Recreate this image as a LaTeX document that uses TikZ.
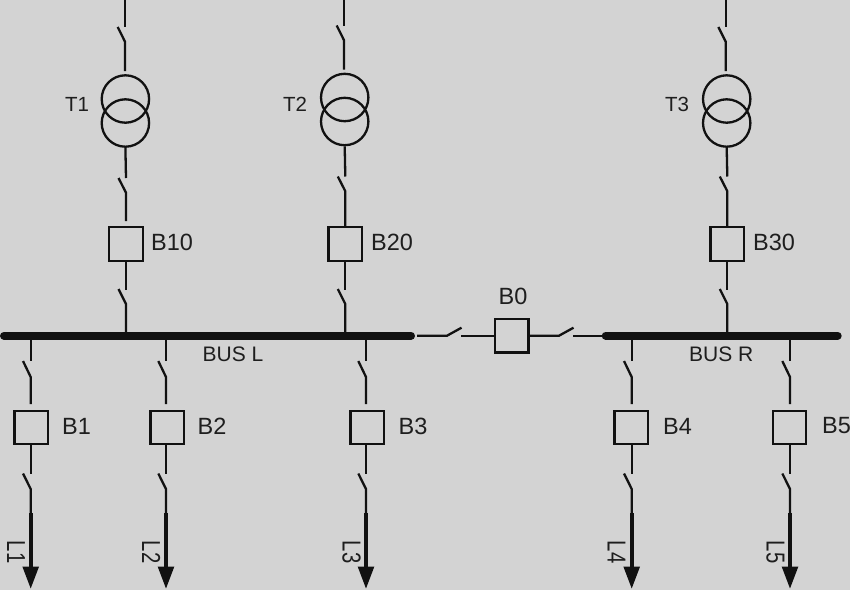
\documentclass[tikz,border=0pt]{standalone}
\usepackage{fontspec}
\setmainfont{Liberation Sans}
\usetikzlibrary{arrows.meta}
\definecolor{bg}{HTML}{D3D3D3}
\definecolor{ink}{HTML}{111111}
\definecolor{txt}{HTML}{1E1E1E}
\tikzset{
  conn/.style={draw=ink,line width=2.3pt},
  heavy/.style={draw=ink,line width=8pt,line cap=round},
  feed/.style={draw=ink,line width=4pt,-{Triangle[length=22.5pt,width=15.5pt]}},
  breaker/.style={draw=ink,line width=2.3pt,rectangle,minimum size=33.6pt,inner sep=0pt,outer sep=1.15pt},
  winding/.style={draw=ink,line width=2.3pt,circle,minimum size=47.4pt,inner sep=0pt,outer sep=1.15pt},
  tlbl/.style={font=\fontsize{20.5}{23}\selectfont,text=txt,inner sep=0pt},
  buslbl/.style={font=\fontsize{21}{23}\selectfont,text=txt,inner sep=0pt},
  blbl/.style={font=\fontsize{23.5}{25}\selectfont,text=txt,inner sep=0pt},
  lnlbl/.style={font=\fontsize{26}{28}\selectfont,text=txt,inner sep=0pt,rotate=-90,xscale=0.78},
}
\begin{document}
\begin{tikzpicture}[x=1pt,y=-1pt]
\path[use as bounding box,fill=bg] (0,0) rectangle (850,590);
% busbars
\coordinate (busLa) at (4,335.7);
\coordinate (busLb) at (411,335.7);
\coordinate (busRa) at (605.7,335.7);
\coordinate (busRb) at (837.7,335.7);
\draw[heavy] (busLa) -- (busLb);
\draw[heavy] (busRa) -- (busRb);
\node[buslbl] (busLt) at (233,354.5) {BUS L};
\node[buslbl] (busRt) at (721.3,354.5) {BUS R};
% incomers: number / upper x / circle x / lower x / T label x / B label x / upper blade y / circle y / lower blade y / end of line above breaker
\foreach \n/\xt/\xc/\xl/\tx/\bx/\yu/\yc/\ym/\ye in {
  1/125/125.4/126/77/172/27/99/178/221,
  2/344/344.7/345.3/295/392/25.5/97.5/176.5/226,
  3/725.7/726.7/727.3/677/774/27/99/176.5/226}{
  \pgfmathsetmacro{\ycb}{\yc+24}
  \pgfmathsetmacro{\yub}{\yu+14.7}
  \pgfmathsetmacro{\yud}{\yu+44}
  \pgfmathsetmacro{\ymb}{\ym+14.7}
  \coordinate (top\n) at (\xt,0);
  \coordinate (ua\n) at (\xt,\yu);
  \coordinate (ub\n) at (\xt-7.3,\yu);
  \coordinate (uc\n) at (\xt,\yub);
  \coordinate (ud\n) at (\xt,\yud);
  \node[winding] (wa\n) at (\xc,\yc) {};
  \node[winding] (wb\n) at (\xc,\ycb) {};
  \coordinate (mb\n) at (\xl,\ym);
  \coordinate (mc\n) at (\xl-7.5,\ym);
  \coordinate (md\n) at (\xl,\ymb);
  \coordinate (me\n) at (\xl,\ye);
  \node[breaker] (brk\n) at (\xl,243.9) {};
  \node[tlbl] (tl\n) at (\tx,104) {T\n};
  \node[blbl] (bl\n) at (\bx,242) {B\n0};
  \coordinate (la\n) at (\xl,290);
  \coordinate (lb\n) at (\xl-7.5,289);
  \coordinate (lc\n) at (\xl,304);
  \coordinate (ld\n) at (\xl,332);
  \draw[conn] (top\n) -- (ua\n);
  \draw[conn] (ub\n) -- (uc\n) -- (ud\n);
  \draw[conn] (wb\n.south) -- (mb\n);
  \draw[conn] (mc\n) -- (md\n) -- (me\n);
  \draw[conn] (brk\n.south) -- (la\n);
  \draw[conn] (lb\n) -- (lc\n) -- (ld\n);
}
% feeders: number / line x / box x / B label x / L label x
\foreach \n/\x/\cx/\bx/\lx in {1/30.7/31.3/76.5/16,2/166/167.2/212/151.3,3/366/367.2/413/351.5,4/631.7/631.3/677.5/616.5,5/790/789.5/836.5/775.5}{
  \coordinate (fa\n) at (\x,338);
  \coordinate (fb\n) at (\x,361);
  \coordinate (fc\n) at (\x-7.7,361);
  \coordinate (fd\n) at (\x,377);
  \coordinate (fe\n) at (\x,404);
  \node[breaker] (fbk\n) at (\cx,427.5) {};
  \node[blbl] (fl\n) at (\bx,426) {B\n};
  \coordinate (ff\n) at (\x,474);
  \coordinate (fg\n) at (\x-7.7,473.5);
  \coordinate (fh\n) at (\x,489);
  \coordinate (fi\n) at (\x,513);
  \coordinate (fj\n) at (\x,589);
  \node[lnlbl] (ll\n) at (\lx,552) {L\n};
  \draw[conn] (fa\n) -- (fb\n);
  \draw[conn] (fc\n) -- (fd\n) -- (fe\n);
  \draw[conn] (fe\n |- fbk\n.south) -- (ff\n);
  \draw[conn] (fg\n) -- (fh\n) -- (fi\n);
  \draw[feed] (fi\n) -- (fj\n);
}
% bus coupler
\node[breaker] (b0) at (511.7,335.8) {};
\node[blbl] (b0t) at (513,296) {B0};
\coordinate (ca) at (417,335.7);
\coordinate (cb) at (447,335.7);
\coordinate (cc) at (461.5,327.7);
\coordinate (cd) at (461,335.7);
\coordinate (ce) at (559,335.7);
\coordinate (cf) at (573.5,327.7);
\coordinate (cg) at (573,335.7);
\draw[conn] (ca) -- (cb) -- (cc);
\draw[conn] (cd) -- (b0.west |- cd);
\draw[conn] (b0.east |- ce) -- (ce) -- (cf);
\draw[conn] (cg) -- (busRa);
\end{tikzpicture}
\end{document}
